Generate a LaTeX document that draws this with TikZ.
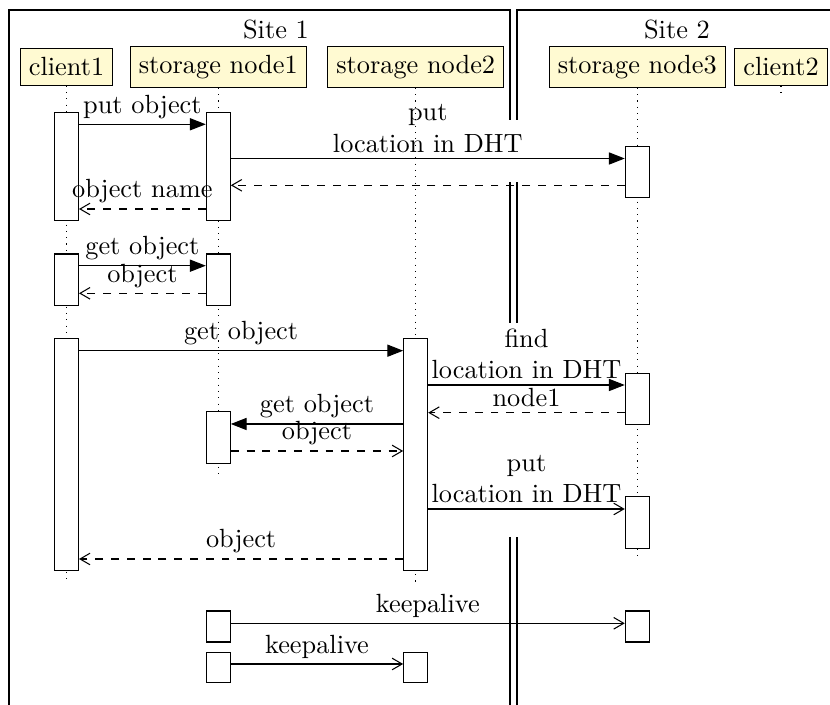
\documentclass[tikz,border=0pt]{standalone}
\usetikzlibrary{arrows.meta,fit}
\definecolor{hdrfill}{RGB}{255,250,210}
\newcommand\actbox[4]{\node[act, fit={(#2-12,#3) (#2+12,#4)}] (#1) {};}
\begin{document}
\begin{tikzpicture}[x=0.38pt,y=-0.38pt,
  hdr/.style={draw, fill=hdrfill},
  act/.style={draw, fill=white, inner sep=0pt},
  life/.style={dotted},
  call/.style={-{Triangle[length=6pt,width=4.6pt]}},
  ret/.style={dashed, -{Straight Barb[length=3.8pt,width=4.4pt]}},
  async/.style={-{Straight Barb[length=3.8pt,width=4.4pt]}},
  lbl/.style={midway, above, inner sep=2pt, align=center}]
\useasboundingbox (0,0) rectangle (830,705);
% site frames
\draw (9,705) -- (9,10) -- (510,10) -- (510,120);
\draw (510,182) -- (510,323);
\draw (510,537) -- (510,705);
\draw (517,705) -- (517,537);
\draw (517,323) -- (517,182);
\draw (517,120) -- (517,10) -- (830,10);
\node[anchor=base] (site1) at (276,38.5) {Site 1};
\node[anchor=base] (site2) at (677,38.5) {Site 2};
% headers
\node[hdr] (h1) at (66.5,67) {client1};
\node[hdr] (h2) at (218.3,66.7) {storage node1};
\node[hdr] (h3) at (415.7,66.7) {storage node2};
\node[hdr] (h4) at (637.3,66.7) {storage node3};
\node[hdr] (h5) at (781,67) {client2};
% lifelines
\draw[life] (h1.south) -- (h1.south |- 0,583);
\draw[life] (h2.south) -- (h2.south |- 0,477);
\draw[life] (h3.south) -- (h3.south |- 0,584);
\draw[life] (h4.south) -- (h4.south |- 0,560);
\draw[life] (h5.south) -- (h5.south |- 0,95);
% activations
\actbox{a1}{66.5}{112.3}{220.7}
\actbox{a2}{218.3}{112.3}{220.7}
\actbox{a3}{637.3}{146.7}{197.7}
\actbox{a4}{66.5}{254}{305.3}
\actbox{a5}{218.3}{254}{305.3}
\actbox{a6}{66.5}{338.3}{570.7}
\actbox{a7}{415.7}{338.3}{570.7}
\actbox{a8}{637.3}{373.3}{424.3}
\actbox{a9}{218.3}{411.7}{463.3}
\actbox{a10}{637.3}{496.7}{548.3}
\actbox{a11}{218.3}{611}{642}
\actbox{a12}{637.3}{611}{642}
\actbox{a13}{218.3}{652.3}{682.7}
\actbox{a14}{415.7}{652.3}{682.7}
% messages
\draw[call] (a1.east |- 0,124.3) -- node[lbl] {put object} (a2.west |- 0,124.3);
\draw[call] (a2.east |- 0,158.5) -- node[lbl] {put\\location in DHT} (a3.west |- 0,158.5);
\draw[ret] (a3.west |- 0,185.3) -- (a2.east |- 0,185.3);
\draw[ret] (a2.west |- 0,209) -- node[lbl] {object name} (a1.east |- 0,209);
\draw[call] (a4.east |- 0,265.7) -- node[lbl] {get object} (a5.west |- 0,265.7);
\draw[ret] (a5.west |- 0,293.3) -- node[lbl] {object} (a4.east |- 0,293.3);
\draw[call] (a6.east |- 0,350.7) -- node[lbl] {get object} (a7.west |- 0,350.7);
\draw[call] (a7.east |- 0,385) -- node[lbl] {find\\location in DHT} (a8.west |- 0,385);
\draw[ret] (a8.west |- 0,412.7) -- node[lbl] {node1} (a7.east |- 0,412.7);
\draw[call] (a7.west |- 0,424) -- node[lbl] {get object} (a9.east |- 0,424);
\draw[ret] (a9.east |- 0,451) -- node[lbl] {object} (a7.west |- 0,451);
\draw[async] (a7.east |- 0,509) -- node[lbl] {put\\location in DHT} (a10.west |- 0,509);
\draw[ret] (a7.west |- 0,559) -- node[lbl] {object} (a6.east |- 0,559);
\draw[async] (a11.east |- 0,623.3) -- node[lbl] {keepalive} (a12.west |- 0,623.3);
\draw[async] (a13.east |- 0,664) -- node[lbl] {keepalive} (a14.west |- 0,664);
\end{tikzpicture}
\end{document}
